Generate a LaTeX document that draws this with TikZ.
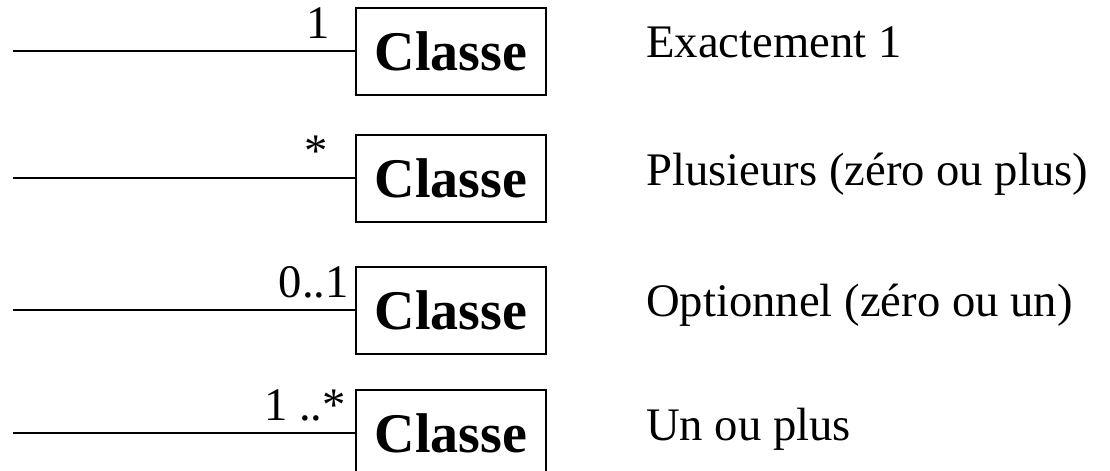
\documentclass[tikz,border=0pt]{standalone}
\usepackage{fontspec}
\setmainfont{Liberation Serif}
\begin{document}
\begin{tikzpicture}[x=0.75pt,y=-0.75pt,
  classbox/.style={draw,line width=1.5pt,minimum width=190*0.75pt,minimum height=87*0.75pt,inner sep=0pt,
    font=\fontsize{42}{48}\selectfont\bfseries},
  assoc/.style={line width=1.5pt},
  mult/.style={anchor=base east,inner sep=0pt,font=\fontsize{35}{40}\selectfont},
  desc/.style={anchor=base west,inner sep=0pt,font=\fontsize{35}{40}\selectfont}]
\useasboundingbox (0,0) rectangle (1110,471);
% row 1
\node[classbox] (c1) at (451,51) {Classe};
\coordinate (s1) at (13,51);
\draw[assoc] (s1) -- (c1.west);
\node[mult] (m1) at (330,38) {1};
\node[desc] (d1) at (646,57) {Exactement 1};
% row 2
\node[classbox] (c2) at (451,178) {Classe};
\coordinate (s2) at (13,178);
\draw[assoc] (s2) -- (c2.west);
\node[mult] (m2) at (328,166) {*};
\node[desc] (d2) at (646,185) {Plusieurs (zéro ou plus)};
% row 3
\node[classbox] (c3) at (451,310) {Classe};
\coordinate (s3) at (13,310);
\draw[assoc] (s3) -- (c3.west);
\node[mult] (m3) at (349,297) {0..1};
\node[desc] (d3) at (646,316) {Optionnel (zéro ou un)};
% row 4
\node[classbox] (c4) at (451,433) {Classe};
\coordinate (s4) at (13,433);
\draw[assoc] (s4) -- (c4.west);
\node[mult] (m4) at (346,420) {1 ..*};
\node[desc] (d4) at (646,440) {Un ou plus};
\end{tikzpicture}
\end{document}
